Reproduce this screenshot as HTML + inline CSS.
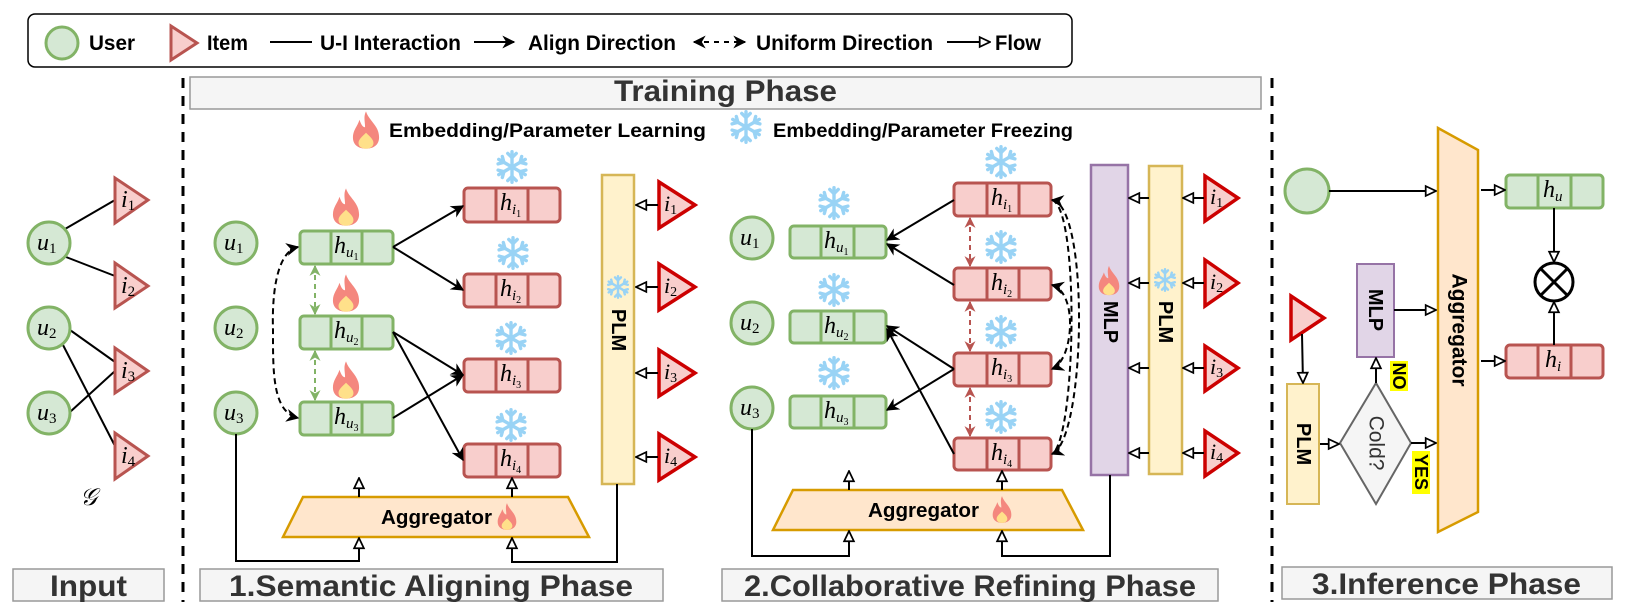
<!DOCTYPE html>
<html><head><meta charset="utf-8"><style>
html,body{margin:0;padding:0;background:#fff;}
svg{display:block;}
text{font-family:"Liberation Sans",Arial,sans-serif;}
.b{font-weight:bold;}
.m text, text.m{font-family:"Liberation Serif","DejaVu Serif",serif;font-style:italic;}
</style></head><body>
<svg width="1625" height="616" viewBox="0 0 1625 616" xmlns="http://www.w3.org/2000/svg">
<defs>
<marker id="a" viewBox="0 0 10 10" refX="9" refY="5" markerWidth="13" markerHeight="13" markerUnits="userSpaceOnUse" orient="auto-start-reverse"><path d="M0,0 L10,5 L0,10 L3,5 Z" fill="#000"/></marker>
<marker id="ag" viewBox="0 0 10 10" refX="9" refY="5" markerWidth="11" markerHeight="11" markerUnits="userSpaceOnUse" orient="auto-start-reverse"><path d="M0,0 L10,5 L0,10 L3,5 Z" fill="#82b366"/></marker>
<marker id="ar" viewBox="0 0 10 10" refX="9" refY="5" markerWidth="11" markerHeight="11" markerUnits="userSpaceOnUse" orient="auto-start-reverse"><path d="M0,0 L10,5 L0,10 L3,5 Z" fill="#b85450"/></marker>
<marker id="o" viewBox="0 0 12 12" refX="11" refY="6" markerWidth="13" markerHeight="13" markerUnits="userSpaceOnUse" orient="auto"><path d="M1.5,1.5 L11,6 L1.5,10.5 Z" fill="#fff" stroke="#000" stroke-width="1.6"/></marker>
<symbol id="fire" viewBox="-15 -21 30 42"><path d="M0,-20 C3,-10 14,-5 14,8 C14,16 8,20 0,20 C-8,20 -14,16 -14,8 C-14,0 -9,-4 -7,-11 C-5,-5 -3,-3 -1,-3 C-1,-9 -3,-14 0,-20 Z" fill="#f4877e"/><path d="M0,3 C4,7 8,10 8,14 C8,18 4,20 0,20 C-4,20 -8,18 -8,14 C-8,10 -4,7 0,3 Z" fill="#ffe08a"/></symbol>
<symbol id="snow" viewBox="-20 -20 40 40"><g stroke="#99d3f5" stroke-width="4" stroke-linecap="round" fill="none"><g id="arm"><line x1="0" y1="-18" x2="0" y2="18"/><polyline points="-5,-16 0,-11 5,-16"/><polyline points="-5,16 0,11 5,16"/></g><use href="#arm" transform="rotate(60)"/><use href="#arm" transform="rotate(120)"/></g></symbol>
</defs>

<!-- Legend -->
<rect x="28" y="14" width="1044" height="53" rx="7" fill="#fff" stroke="#000" stroke-width="1.5"/>
<circle cx="62" cy="43" r="16" fill="#d5e8d4" stroke="#82b366" stroke-width="3"/>
<text x="89" y="50" class="b" font-size="21" textLength="46" lengthAdjust="spacingAndGlyphs">User</text>
<polygon points="171,26 171,60 197,43" fill="#f8cecc" stroke="#b85450" stroke-width="3"/>
<text x="207" y="50" class="b" font-size="21" textLength="41" lengthAdjust="spacingAndGlyphs">Item</text>
<line x1="270" y1="42" x2="312" y2="42" stroke="#000" stroke-width="2"/>
<text x="320" y="50" class="b" font-size="21" textLength="141" lengthAdjust="spacingAndGlyphs">U-I Interaction</text>
<line x1="474" y1="42" x2="514" y2="42" stroke="#000" stroke-width="2" marker-end="url(#a)"/>
<text x="528" y="50" class="b" font-size="21" textLength="148" lengthAdjust="spacingAndGlyphs">Align Direction</text>
<line x1="694" y1="42" x2="745" y2="42" stroke="#000" stroke-width="2" stroke-dasharray="5,5" marker-start="url(#a)" marker-end="url(#a)"/>
<text x="756" y="50" class="b" font-size="21" textLength="177" lengthAdjust="spacingAndGlyphs">Uniform Direction</text>
<line x1="947" y1="42" x2="990" y2="42" stroke="#000" stroke-width="2" marker-end="url(#o)"/>
<text x="995" y="50" class="b" font-size="21" textLength="46" lengthAdjust="spacingAndGlyphs">Flow</text>

<!-- dashed separators -->
<line x1="183" y1="78" x2="183" y2="602" stroke="#000" stroke-width="3" stroke-dasharray="10,8"/>
<line x1="1272" y1="78" x2="1272" y2="602" stroke="#000" stroke-width="3" stroke-dasharray="10,8"/>

<!-- Training phase header -->
<rect x="190" y="77" width="1071" height="32" fill="#f5f5f5" stroke="#999" stroke-width="1.5"/>
<text x="614" y="101" class="b" font-size="30" fill="#333" textLength="223" lengthAdjust="spacingAndGlyphs">Training Phase</text>
<use href="#fire" x="352" y="110" width="28" height="40"/>
<text x="389" y="137" class="b" font-size="19" textLength="317" lengthAdjust="spacingAndGlyphs">Embedding/Parameter Learning</text>
<use href="#snow" x="729" y="110" width="34" height="34"/>
<text x="773" y="137" class="b" font-size="19" textLength="300" lengthAdjust="spacingAndGlyphs">Embedding/Parameter Freezing</text>

<!-- INPUT -->
<g stroke="#000" stroke-width="2">
<line x1="65" y1="229" x2="115" y2="200"/>
<line x1="66" y1="257" x2="115" y2="276"/>
<line x1="70" y1="330" x2="115" y2="362"/>
<line x1="63" y1="345" x2="115" y2="446"/>
<line x1="70" y1="412" x2="115" y2="371"/>
</g>
<g fill="#d5e8d4" stroke="#82b366" stroke-width="3">
<circle cx="49" cy="243" r="21"/><circle cx="49" cy="328" r="21"/><circle cx="49" cy="413" r="21"/>
</g>
<g fill="#f8cecc" stroke="#b85450" stroke-width="3">
<polygon points="115,178 115,223 148,200"/><polygon points="115,263 115,308 148,286"/>
<polygon points="115,348 115,393 148,371"/><polygon points="115,433 115,479 148,456"/>
</g>
<g class="m" font-size="24">
<text x="37" y="250">u<tspan font-size="15" dy="3" font-style="normal">1</tspan></text>
<text x="37" y="335">u<tspan font-size="15" dy="3" font-style="normal">2</tspan></text>
<text x="37" y="420">u<tspan font-size="15" dy="3" font-style="normal">3</tspan></text>
<text x="121" y="207">i<tspan font-size="15" dy="3" font-style="normal">1</tspan></text>
<text x="121" y="293">i<tspan font-size="15" dy="3" font-style="normal">2</tspan></text>
<text x="121" y="378">i<tspan font-size="15" dy="3" font-style="normal">3</tspan></text>
<text x="121" y="463">i<tspan font-size="15" dy="3" font-style="normal">4</tspan></text>
<text x="80" y="505" font-size="24">𝒢</text>
</g>
<rect x="13" y="569" width="151" height="32" fill="#f5f5f5" stroke="#999" stroke-width="1.5"/>
<text x="50" y="596" class="b" font-size="30" fill="#333" textLength="77" lengthAdjust="spacingAndGlyphs">Input</text>

<!-- SECTION 1 -->
<g fill="#d5e8d4" stroke="#82b366" stroke-width="3">
<circle cx="236" cy="243" r="21"/><circle cx="236" cy="328" r="21"/><circle cx="236" cy="413" r="21"/>
</g>
<g class="m" font-size="24">
<text x="224" y="250">u<tspan font-size="15" dy="3" font-style="normal">1</tspan></text>
<text x="224" y="335">u<tspan font-size="15" dy="3" font-style="normal">2</tspan></text>
<text x="224" y="420">u<tspan font-size="15" dy="3" font-style="normal">3</tspan></text>
</g>
<g fill="#d5e8d4" stroke="#82b366" stroke-width="3">
<rect x="300" y="231" width="93" height="33" rx="4"/><rect x="300" y="316" width="93" height="33" rx="4"/><rect x="300" y="402" width="93" height="33" rx="4"/>
<line x1="331" y1="231" x2="331" y2="264"/><line x1="362" y1="231" x2="362" y2="264"/>
<line x1="331" y1="316" x2="331" y2="349"/><line x1="362" y1="316" x2="362" y2="349"/>
<line x1="331" y1="402" x2="331" y2="435"/><line x1="362" y1="402" x2="362" y2="435"/>
</g>
<g class="m" font-size="24">
<text x="334" y="253">h<tspan font-size="15" dy="4">u</tspan><tspan font-size="10" dy="3" font-style="normal">1</tspan></text>
<text x="334" y="338">h<tspan font-size="15" dy="4">u</tspan><tspan font-size="10" dy="3" font-style="normal">2</tspan></text>
<text x="334" y="424">h<tspan font-size="15" dy="4">u</tspan><tspan font-size="10" dy="3" font-style="normal">3</tspan></text>
</g>
<use href="#fire" x="332" y="187" width="28" height="40"/>
<use href="#fire" x="332" y="273" width="28" height="40"/>
<use href="#fire" x="332" y="360" width="28" height="40"/>
<g fill="#f8cecc" stroke="#b85450" stroke-width="3">
<rect x="464" y="188" width="96" height="34" rx="4"/><rect x="464" y="274" width="96" height="33" rx="4"/>
<rect x="464" y="359" width="96" height="33" rx="4"/><rect x="464" y="444" width="96" height="33" rx="4"/>
<line x1="496" y1="188" x2="496" y2="222"/><line x1="528" y1="188" x2="528" y2="222"/>
<line x1="496" y1="274" x2="496" y2="307"/><line x1="528" y1="274" x2="528" y2="307"/>
<line x1="496" y1="359" x2="496" y2="392"/><line x1="528" y1="359" x2="528" y2="392"/>
<line x1="496" y1="444" x2="496" y2="477"/><line x1="528" y1="444" x2="528" y2="477"/>
</g>
<g class="m" font-size="24">
<text x="500" y="210">h<tspan font-size="15" dy="4">i</tspan><tspan font-size="10" dy="3" font-style="normal">1</tspan></text>
<text x="500" y="296">h<tspan font-size="15" dy="4">i</tspan><tspan font-size="10" dy="3" font-style="normal">2</tspan></text>
<text x="500" y="381">h<tspan font-size="15" dy="4">i</tspan><tspan font-size="10" dy="3" font-style="normal">3</tspan></text>
<text x="500" y="466">h<tspan font-size="15" dy="4">i</tspan><tspan font-size="10" dy="3" font-style="normal">4</tspan></text>
</g>
<use href="#snow" x="495" y="150" width="34" height="34"/>
<use href="#snow" x="496" y="236" width="34" height="34"/>
<use href="#snow" x="494" y="321" width="34" height="34"/>
<use href="#snow" x="494" y="408" width="34" height="34"/>
<g stroke="#000" stroke-width="2" fill="none" marker-end="url(#a)">
<line x1="393" y1="247" x2="463" y2="206"/>
<line x1="393" y1="247" x2="463" y2="290"/>
<line x1="393" y1="332" x2="463" y2="375"/>
<line x1="393" y1="332" x2="463" y2="460"/>
<line x1="393" y1="418" x2="463" y2="375"/>
</g>
<line x1="315" y1="266" x2="315" y2="314" stroke="#82b366" stroke-width="2" stroke-dasharray="5,4" marker-start="url(#ag)" marker-end="url(#ag)"/>
<line x1="315" y1="351" x2="315" y2="400" stroke="#82b366" stroke-width="2" stroke-dasharray="5,4" marker-start="url(#ag)" marker-end="url(#ag)"/>
<path d="M298,247 C275,252 272,300 273,330 C273,370 272,412 298,418" stroke="#000" stroke-width="2" stroke-dasharray="6,4" fill="none" marker-start="url(#a)" marker-end="url(#a)"/>
<rect x="602" y="175" width="32" height="309" fill="#fff2cc" stroke="#d6b656" stroke-width="2.5"/>
<use href="#snow" x="606" y="275" width="24" height="24"/>
<text transform="translate(618,330) rotate(90)" text-anchor="middle" dominant-baseline="central" class="b" font-size="20">PLM</text>
<g fill="#f8cecc" stroke="#cc0000" stroke-width="3.5">
<polygon points="659,182 659,228 695,205"/><polygon points="659,264 659,310 695,287"/>
<polygon points="659,350 659,396 695,373"/><polygon points="659,434 659,480 695,457"/>
</g>
<g class="m" font-size="22">
<text x="664" y="211">i<tspan font-size="14" dy="3" font-style="normal">1</tspan></text>
<text x="664" y="293">i<tspan font-size="14" dy="3" font-style="normal">2</tspan></text>
<text x="664" y="379">i<tspan font-size="14" dy="3" font-style="normal">3</tspan></text>
<text x="664" y="463">i<tspan font-size="14" dy="3" font-style="normal">4</tspan></text>
</g>
<g stroke="#000" stroke-width="2" marker-end="url(#o)">
<line x1="658" y1="205" x2="636" y2="205"/><line x1="658" y1="287" x2="636" y2="287"/>
<line x1="658" y1="373" x2="636" y2="373"/><line x1="658" y1="457" x2="636" y2="457"/>
</g>
<polygon points="303,497 568,497 589,537 283,537" fill="#ffe6cc" stroke="#d79b00" stroke-width="2.5"/>
<text x="381" y="524" class="b" font-size="20" textLength="111" lengthAdjust="spacingAndGlyphs">Aggregator</text>
<use href="#fire" x="497" y="502" width="20" height="29"/>
<g stroke="#000" stroke-width="2" fill="none" marker-end="url(#o)">
<line x1="359" y1="497" x2="359" y2="478"/>
<line x1="512" y1="497" x2="512" y2="478"/>
<polyline points="236,434 236,561 359,561 359,538"/>
<polyline points="617,484 617,562 512,562 512,538"/>
</g>
<rect x="200" y="569" width="463" height="32" fill="#f5f5f5" stroke="#999" stroke-width="1.5"/>
<text x="229" y="596" class="b" font-size="30" fill="#333" textLength="404" lengthAdjust="spacingAndGlyphs">1.Semantic Aligning Phase</text>

<!-- SECTION 2 -->
<g fill="#d5e8d4" stroke="#82b366" stroke-width="3">
<circle cx="752" cy="238" r="21"/><circle cx="752" cy="323" r="21"/><circle cx="752" cy="408" r="21"/>
</g>
<g class="m" font-size="24">
<text x="740" y="245">u<tspan font-size="15" dy="3" font-style="normal">1</tspan></text>
<text x="740" y="330">u<tspan font-size="15" dy="3" font-style="normal">2</tspan></text>
<text x="740" y="415">u<tspan font-size="15" dy="3" font-style="normal">3</tspan></text>
</g>
<g fill="#d5e8d4" stroke="#82b366" stroke-width="3">
<rect x="790" y="226" width="96" height="32" rx="4"/><rect x="790" y="311" width="96" height="32" rx="4"/><rect x="790" y="396" width="96" height="32" rx="4"/>
<line x1="821" y1="226" x2="821" y2="258"/><line x1="854" y1="226" x2="854" y2="258"/>
<line x1="821" y1="311" x2="821" y2="343"/><line x1="854" y1="311" x2="854" y2="343"/>
<line x1="821" y1="396" x2="821" y2="428"/><line x1="854" y1="396" x2="854" y2="428"/>
</g>
<g class="m" font-size="24">
<text x="824" y="248">h<tspan font-size="15" dy="4">u</tspan><tspan font-size="10" dy="3" font-style="normal">1</tspan></text>
<text x="824" y="333">h<tspan font-size="15" dy="4">u</tspan><tspan font-size="10" dy="3" font-style="normal">2</tspan></text>
<text x="824" y="418">h<tspan font-size="15" dy="4">u</tspan><tspan font-size="10" dy="3" font-style="normal">3</tspan></text>
</g>
<use href="#snow" x="817" y="186" width="34" height="34"/>
<use href="#snow" x="817" y="273" width="34" height="34"/>
<use href="#snow" x="817" y="356" width="34" height="34"/>
<g fill="#f8cecc" stroke="#b85450" stroke-width="3">
<rect x="954" y="183" width="97" height="33" rx="4"/><rect x="954" y="268" width="97" height="32" rx="4"/>
<rect x="954" y="353" width="97" height="33" rx="4"/><rect x="954" y="438" width="97" height="32" rx="4"/>
<line x1="987" y1="183" x2="987" y2="216"/><line x1="1019" y1="183" x2="1019" y2="216"/>
<line x1="987" y1="268" x2="987" y2="300"/><line x1="1019" y1="268" x2="1019" y2="300"/>
<line x1="987" y1="353" x2="987" y2="386"/><line x1="1019" y1="353" x2="1019" y2="386"/>
<line x1="987" y1="438" x2="987" y2="470"/><line x1="1019" y1="438" x2="1019" y2="470"/>
</g>
<g class="m" font-size="24">
<text x="991" y="205">h<tspan font-size="15" dy="4">i</tspan><tspan font-size="10" dy="3" font-style="normal">1</tspan></text>
<text x="991" y="290">h<tspan font-size="15" dy="4">i</tspan><tspan font-size="10" dy="3" font-style="normal">2</tspan></text>
<text x="991" y="375">h<tspan font-size="15" dy="4">i</tspan><tspan font-size="10" dy="3" font-style="normal">3</tspan></text>
<text x="991" y="460">h<tspan font-size="15" dy="4">i</tspan><tspan font-size="10" dy="3" font-style="normal">4</tspan></text>
</g>
<use href="#snow" x="984" y="145" width="34" height="34"/>
<use href="#snow" x="984" y="230" width="34" height="34"/>
<use href="#snow" x="984" y="315" width="34" height="34"/>
<use href="#snow" x="984" y="400" width="34" height="34"/>
<g stroke="#000" stroke-width="2" fill="none" marker-end="url(#a)">
<line x1="954" y1="200" x2="887" y2="240"/>
<line x1="954" y1="285" x2="887" y2="244"/>
<line x1="954" y1="369" x2="887" y2="326"/>
<line x1="954" y1="369" x2="887" y2="410"/>
<line x1="954" y1="454" x2="887" y2="329"/>
</g>
<g stroke="#b85450" stroke-width="2" stroke-dasharray="5,4" marker-start="url(#ar)" marker-end="url(#ar)">
<line x1="970" y1="218" x2="970" y2="266"/>
<line x1="970" y1="302" x2="970" y2="351"/>
<line x1="970" y1="388" x2="970" y2="436"/>
</g>
<g stroke="#000" stroke-width="2" stroke-dasharray="6,4" fill="none" marker-start="url(#a)" marker-end="url(#a)">
<path d="M1052,200 C1090,205 1086,440 1052,454"/>
<path d="M1052,200 C1080,208 1076,440 1052,454" marker-start="none" marker-end="none"/>
<path d="M1052,285 C1078,292 1074,360 1052,369"/>
</g>
<rect x="1091" y="165" width="37" height="310" fill="#e1d5e7" stroke="#9673a6" stroke-width="2.5"/>
<use href="#fire" x="1098" y="265" width="22" height="31"/>
<text transform="translate(1110,322) rotate(90)" text-anchor="middle" dominant-baseline="central" class="b" font-size="20">MLP</text>
<rect x="1149" y="166" width="33" height="308" fill="#fff2cc" stroke="#d6b656" stroke-width="2.5"/>
<use href="#snow" x="1153" y="268" width="24" height="24"/>
<text transform="translate(1165,322) rotate(90)" text-anchor="middle" dominant-baseline="central" class="b" font-size="20">PLM</text>
<g fill="#f8cecc" stroke="#cc0000" stroke-width="3.5">
<polygon points="1205,176 1205,221 1238,198"/><polygon points="1205,260 1205,306 1238,283"/>
<polygon points="1205,346 1205,391 1238,368"/><polygon points="1205,431 1205,476 1238,453"/>
</g>
<g class="m" font-size="22">
<text x="1210" y="204">i<tspan font-size="14" dy="3" font-style="normal">1</tspan></text>
<text x="1210" y="289">i<tspan font-size="14" dy="3" font-style="normal">2</tspan></text>
<text x="1210" y="374">i<tspan font-size="14" dy="3" font-style="normal">3</tspan></text>
<text x="1210" y="459">i<tspan font-size="14" dy="3" font-style="normal">4</tspan></text>
</g>
<g stroke="#000" stroke-width="2" marker-end="url(#o)">
<line x1="1204" y1="198" x2="1183" y2="198"/><line x1="1204" y1="283" x2="1183" y2="283"/>
<line x1="1204" y1="368" x2="1183" y2="368"/><line x1="1204" y1="453" x2="1183" y2="453"/>
<line x1="1149" y1="198" x2="1129" y2="198"/><line x1="1149" y1="283" x2="1129" y2="283"/>
<line x1="1149" y1="368" x2="1129" y2="368"/><line x1="1149" y1="453" x2="1129" y2="453"/>
</g>
<polygon points="793,490 1062,490 1083,530 773,530" fill="#ffe6cc" stroke="#d79b00" stroke-width="2.5"/>
<text x="868" y="517" class="b" font-size="20" textLength="111" lengthAdjust="spacingAndGlyphs">Aggregator</text>
<use href="#fire" x="992" y="495" width="20" height="29"/>
<g stroke="#000" stroke-width="2" fill="none" marker-end="url(#o)">
<line x1="849" y1="490" x2="849" y2="471"/>
<line x1="1002" y1="490" x2="1002" y2="471"/>
<polyline points="752,429 752,556 849,556 849,531"/>
<polyline points="1110,475 1110,556 1002,556 1002,531"/>
</g>
<rect x="722" y="569" width="496" height="32" fill="#f5f5f5" stroke="#999" stroke-width="1.5"/>
<text x="744" y="596" class="b" font-size="30" fill="#333" textLength="452" lengthAdjust="spacingAndGlyphs">2.Collaborative Refining Phase</text>

<!-- SECTION 3 -->
<circle cx="1307" cy="191" r="22" fill="#d5e8d4" stroke="#82b366" stroke-width="3"/>
<polygon points="1438,128 1478,150 1478,512 1438,532" fill="#ffe6cc" stroke="#d79b00" stroke-width="2.5"/>
<text transform="translate(1459,330) rotate(90)" text-anchor="middle" dominant-baseline="central" class="b" font-size="21" textLength="113" lengthAdjust="spacingAndGlyphs">Aggregator</text>
<g fill="#d5e8d4" stroke="#82b366" stroke-width="3">
<rect x="1506" y="175" width="97" height="33" rx="4"/>
<line x1="1538" y1="175" x2="1538" y2="208"/><line x1="1571" y1="175" x2="1571" y2="208"/>
</g>
<g fill="#f8cecc" stroke="#b85450" stroke-width="3">
<rect x="1506" y="345" width="97" height="33" rx="4"/>
<line x1="1538" y1="345" x2="1538" y2="378"/><line x1="1571" y1="345" x2="1571" y2="378"/>
</g>
<g class="m" font-size="24">
<text x="1543" y="197">h<tspan font-size="15" dy="4">u</tspan></text>
<text x="1545" y="367">h<tspan font-size="15" dy="4">i</tspan></text>
</g>
<circle cx="1554" cy="282" r="19" fill="#fff" stroke="#000" stroke-width="3"/>
<line x1="1541" y1="269" x2="1567" y2="295" stroke="#000" stroke-width="3"/>
<line x1="1567" y1="269" x2="1541" y2="295" stroke="#000" stroke-width="3"/>
<polygon points="1291,296 1291,340 1324,318" fill="#f8cecc" stroke="#cc0000" stroke-width="3.5"/>
<rect x="1287" y="384" width="32" height="120" fill="#fff2cc" stroke="#d6b656" stroke-width="2"/>
<text transform="translate(1303,444) rotate(90)" text-anchor="middle" dominant-baseline="central" class="b" font-size="20">PLM</text>
<polygon points="1340,443 1376,383 1411,443 1376,504" fill="#f5f5f5" stroke="#666" stroke-width="2"/>
<text transform="translate(1376,443) rotate(90)" text-anchor="middle" dominant-baseline="central" font-size="21" fill="#333">Cold?</text>
<rect x="1357" y="264" width="37" height="93" fill="#e1d5e7" stroke="#9673a6" stroke-width="2"/>
<text transform="translate(1375,310) rotate(90)" text-anchor="middle" dominant-baseline="central" class="b" font-size="20">MLP</text>
<rect x="1390" y="361" width="18" height="30" fill="#ffff00"/>
<text transform="translate(1399,376) rotate(90)" text-anchor="middle" dominant-baseline="central" class="b" font-size="18">NO</text>
<rect x="1412" y="451" width="18" height="43" fill="#ffff00"/>
<text transform="translate(1421,472) rotate(90)" text-anchor="middle" dominant-baseline="central" class="b" font-size="18">YES</text>
<g stroke="#000" stroke-width="2" fill="none" marker-end="url(#o)">
<line x1="1329" y1="191" x2="1436" y2="191"/>
<line x1="1481" y1="190" x2="1505" y2="190"/>
<line x1="1481" y1="361" x2="1505" y2="361"/>
<line x1="1554" y1="208" x2="1554" y2="262"/>
<line x1="1554" y1="345" x2="1554" y2="302"/>
<line x1="1302" y1="334" x2="1303" y2="383"/>
<line x1="1320" y1="444" x2="1339" y2="444"/>
<line x1="1376" y1="383" x2="1376" y2="358"/>
<line x1="1394" y1="310" x2="1436" y2="310"/>
<line x1="1411" y1="443" x2="1436" y2="443"/>
</g>
<rect x="1282" y="567" width="330" height="32" fill="#f5f5f5" stroke="#999" stroke-width="1.5"/>
<text x="1312" y="594" class="b" font-size="30" fill="#333" textLength="269" lengthAdjust="spacingAndGlyphs">3.Inference Phase</text>
</svg>
</body></html>
